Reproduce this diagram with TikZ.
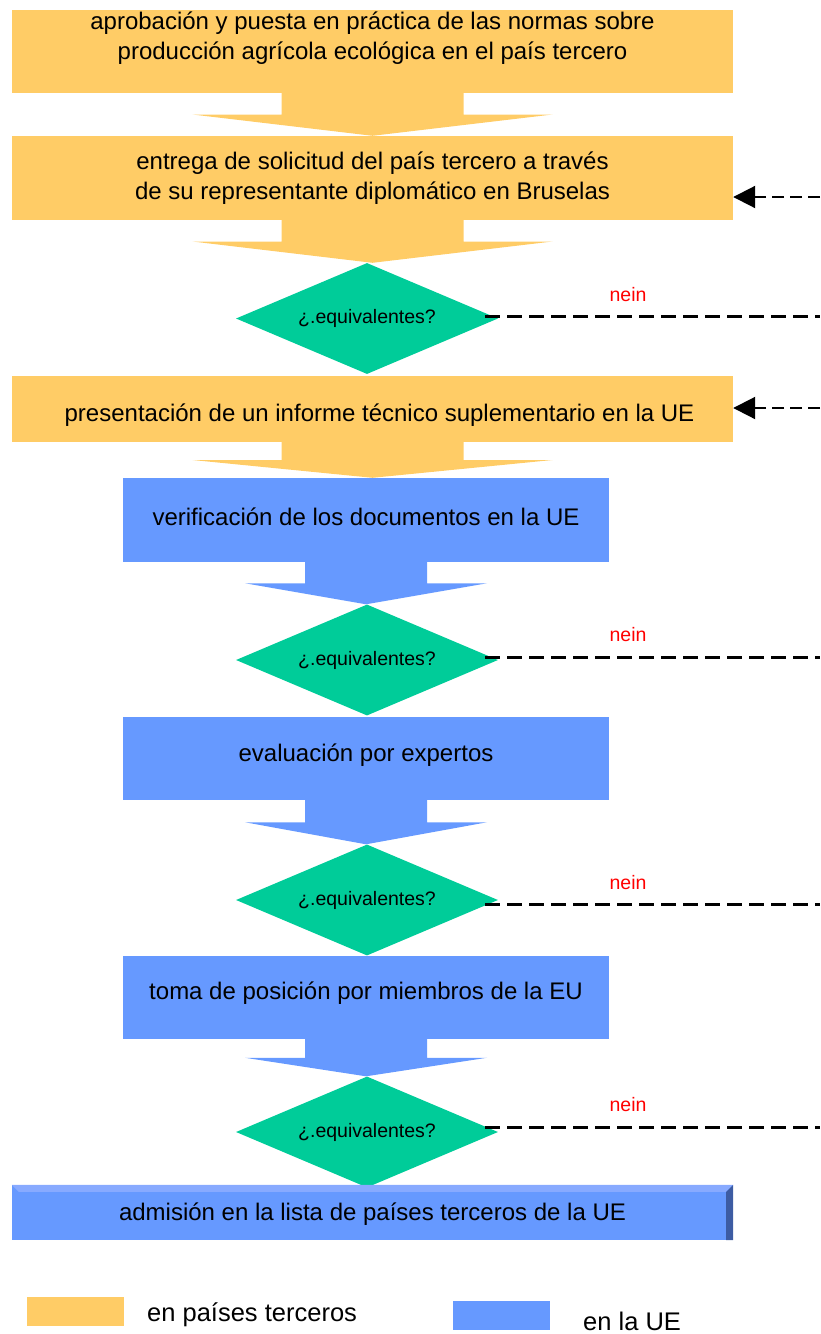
\documentclass[tikz,border=0pt]{standalone}
\usepackage{fontspec}
\setmainfont{Liberation Sans}
\usetikzlibrary{calc,shapes.geometric,arrows.meta}
\definecolor{orangebox}{HTML}{FFCC66}
\definecolor{bluebox}{HTML}{6699FF}
\definecolor{greendec}{HTML}{00CC99}
\definecolor{bluelight}{HTML}{88AAFF}
\definecolor{bluedark}{HTML}{3D5CA3}
% block arrow from the bottom of #2 to the top of #3
\newcommand\blockarr[5]{\fill[#1] let \p1=(#2.south), \p2=(#3.north), \p3=($(#2.south)!.5!(#3.north)$) in
  (\x1-#4pt,\y1) -- (\x1+#4pt,\y1) -- (\x1+#4pt,\y3) -- (\x1+#5pt,\y3) -- (\x1,\y2)
  -- (\x1-#5pt,\y3) -- (\x1-#4pt,\y3) -- cycle;}
\tikzset{
  obox/.style={rectangle, fill=orangebox, inner sep=0pt, minimum width=721pt},
  bbox/.style={rectangle, fill=bluebox, inner sep=0pt, minimum width=486pt},
  decision/.style={diamond, fill=greendec, inner sep=0pt, aspect=2.35, minimum width=262pt, minimum height=111pt, font=\fontsize{19.5}{22}\selectfont},
  txt/.style={align=center, inner sep=0pt, font=\fontsize{24}{30}\selectfont},
  nein/.style={text=red, inner sep=0pt, font=\fontsize{19.5}{22}\selectfont},
  nodash/.style={line width=3pt, dash pattern=on 15pt off 7pt},
  backdash/.style={line width=2pt, dash pattern=on 12pt off 6pt, -{Triangle[length=22pt,width=22pt]}},
  lgtxt/.style={anchor=west, inner sep=0pt, font=\fontsize{25.5}{30}\selectfont}
}
\begin{document}
\begin{tikzpicture}[x=1pt,y=-1pt]
\useasboundingbox (0,0) rectangle (820,1334);
%%%%% boxes and decisions %%%%%
\node[obox, minimum height=83pt] (b1) at (372.5,51.5) {};
\node[obox, minimum height=84pt] (b2) at (372.5,178) {};
\node[decision] (d1) at (367,318.5) {¿.equivalentes?};
\node[obox, minimum height=66pt] (b3) at (372.5,409) {};
\node[bbox, minimum height=84pt] (b4) at (366,520) {};
\node[decision] (d2) at (367,660) {¿.equivalentes?};
\node[bbox, minimum height=83pt] (b5) at (366,758.5) {};
\node[decision] (d3) at (367,900) {¿.equivalentes?};
\node[bbox, minimum height=83pt] (b6) at (366,997.5) {};
\node[decision] (d4) at (367,1132) {¿.equivalentes?};
\node[rectangle, fill=bluebox, inner sep=0pt, minimum width=721pt, minimum height=55pt] (b7) at (372.5,1212.5) {};
\fill[bluelight] (b7.north west) -- (b7.north east) -- ([xshift=-7pt,yshift=-7pt]b7.north east) -- ([xshift=7pt,yshift=-7pt]b7.north west) -- cycle;
\fill[bluedark] (b7.north east) -- (b7.south east) -- ([xshift=-7pt]b7.south east) -- ([xshift=-7pt,yshift=-7pt]b7.north east) -- cycle;

%%%%% block arrows %%%%%
\blockarr{orangebox}{b1}{b2}{91}{180}
\blockarr{orangebox}{b2}{d1}{91}{180}
\blockarr{orangebox}{b3}{b4}{91}{180}
\blockarr{bluebox}{b4}{d2}{61}{121}
\blockarr{bluebox}{b5}{d3}{61}{121}
\blockarr{bluebox}{b6}{d4}{61}{121}

%%%%% texts %%%%%
\node[txt] (t1) at ([yshift=13pt]b1.center) {aprobación y puesta en práctica de las normas sobre\\producción agrícola ecológica en el país tercero};
\node[txt] (t2) at (b2.center) {entrega de solicitud del país tercero a través\\de su representante diplomático en Bruselas};
\node[txt] (t3) at ([xshift=7pt,yshift=-6pt]b3.center) {presentación de un informe técnico suplementario en la UE};
\node[txt] (t4) at ([yshift=3pt]b4.center) {verificación de los documentos en la UE};
\node[txt] (t5) at ([yshift=3pt]b5.center) {evaluación por expertos};
\node[txt] (t6) at ([yshift=4pt]b6.center) {toma de posición por miembros de la EU};
\node[txt] (t7) at ([yshift=-2pt]b7.center) {admisión en la lista de países terceros de la UE};

%%%%% nein branches %%%%%
\coordinate (e1) at (820,316);
\coordinate (e2) at (820,657);
\coordinate (e3) at (820,904);
\coordinate (e4) at (820,1127);
\draw[nodash] (d1.east |- e1) ++(-13,0) -- (e1);
\draw[nodash] (d2.east |- e2) ++(-13,0) -- (e2);
\draw[nodash] (d3.east |- e3) ++(-13,0) -- (e3);
\draw[nodash] (d4.east |- e4) ++(-13,0) -- (e4);
\node[nein] (n1) at (628,295) {nein};
\node[nein] (n2) at (628,635) {nein};
\node[nein] (n3) at (628,883) {nein};
\node[nein] (n4) at (628,1105) {nein};

\coordinate (r2) at (820,197);
\coordinate (r3) at (820,408);
\draw[backdash] (r2) -- (r2 -| b2.east);
\draw[backdash] (r3) -- (r3 -| b3.east);

%%%%% legend %%%%%
\node[fill=orangebox, inner sep=0pt, minimum width=97pt, minimum height=29pt] (lo) at (75.5,1311.5) {};
\node[lgtxt] (lot) at (147,1315) {en países terceros};
\node[fill=bluebox, inner sep=0pt, minimum width=97pt, minimum height=29pt] (lb) at (501.5,1315.5) {};
\node[lgtxt] (lbt) at (583,1321) {en la UE};
\end{tikzpicture}
\end{document}
